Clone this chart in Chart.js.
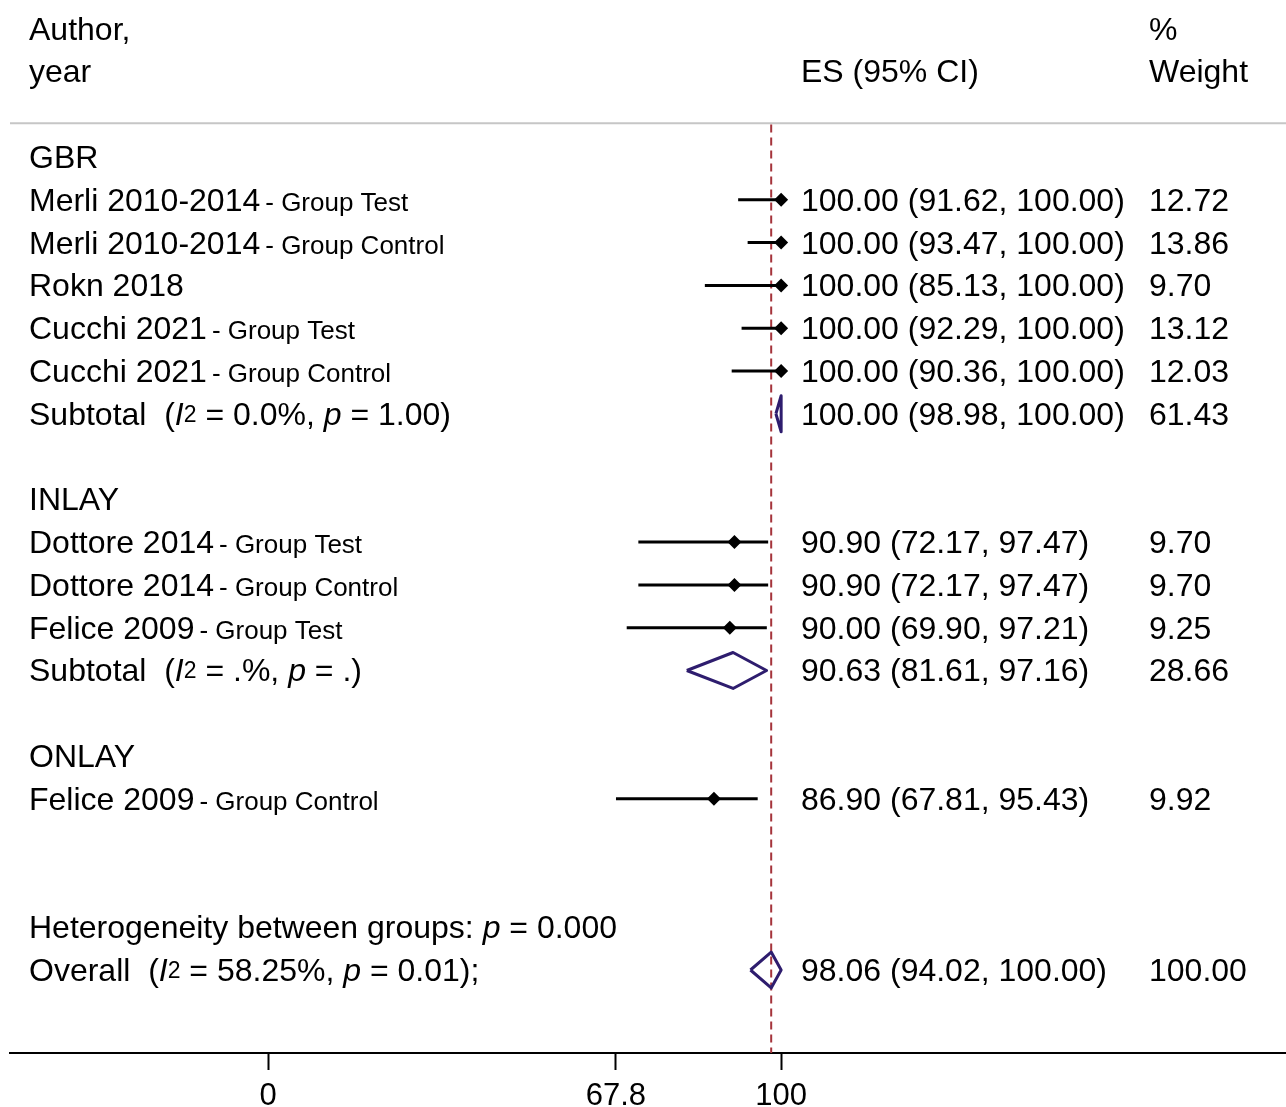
<!DOCTYPE html>
<html>
<head>
<meta charset="utf-8">
<script src="https://cdn.jsdelivr.net/npm/chart.js@4.4.0/dist/chart.umd.min.js"></script>
<style>
  html, body { margin: 0; padding: 0; background: #fff; }
  #wrap { width: 1286px; height: 1107px; position: relative; }
</style>
</head>
<body>
<div id="wrap"><canvas id="forest"></canvas></div>
<script>
// rows run top to bottom, row 0 = first subgroup heading
const groupNames = ['GBR', 'INLAY', 'ONLAY'];
const groupRows  = [0, 8, 14];

const studyNames  = ['Merli 2010-2014', 'Merli 2010-2014', 'Rokn 2018', 'Cucchi 2021', 'Cucchi 2021',
                     'Dottore 2014', 'Dottore 2014', 'Felice 2009', 'Felice 2009'];
const studyArms   = ['- Group Test', '- Group Control', '', '- Group Test', '- Group Control',
                     '- Group Test', '- Group Control', '- Group Test', '- Group Control'];
const studyRows   = [1, 2, 3, 4, 5, 9, 10, 11, 15];
const studyES     = [100.00, 100.00, 100.00, 100.00, 100.00, 90.90, 90.90, 90.00, 86.90];
const studyLow    = [91.62, 93.47, 85.13, 92.29, 90.36, 72.17, 72.17, 69.90, 67.81];
const studyHigh   = [100.00, 100.00, 100.00, 100.00, 100.00, 97.47, 97.47, 97.21, 95.43];
const studyWeight = [12.72, 13.86, 9.70, 13.12, 12.03, 9.70, 9.70, 9.25, 9.92];

const poolLabels = ['Subtotal', 'Subtotal', 'Overall'];
const poolRows   = [6, 12, 19];
const poolES     = [100.00, 90.63, 98.06];
const poolLow    = [98.98, 81.61, 94.02];
const poolHigh   = [100.00, 97.16, 100.00];
const poolWeight = [61.43, 28.66, 100.00];
const poolI2     = ['0.0%', '.%', '58.25%'];
const poolP      = ['1.00', '.', '0.01'];
const poolTail   = [')', ')', ');'];

const hetRow  = 18;
const hetP    = '0.000';

const axisTicks  = [0, 67.8, 100];
const tickLabels = ['0', '67.8', '100'];

// plot window
const X_MIN = -50.3, X_MAX = 198.4;
const Y_MIN = -3.67, Y_MAX = 20.94;
const RULE_ROW = -0.79;     // grey line under the header
const DIAMOND_H = 0.42;     // half height of pooled diamonds, in rows

const FONT = "'Liberation Sans', Arial, Helvetica, sans-serif";
const big   = `32px ${FONT}`;
const small = `26px ${FONT}`;
const ital  = `italic 32px ${FONT}`;
const supF  = `23px ${FONT}`;
const LABEL_X = 29, ES_X = 801, WT_X = 1149;

const f2 = v => v.toFixed(2);
const esText = (e, l, h) => `${f2(e)} (${f2(l)}, ${f2(h)})`;

function drawRich(ctx, parts, x, y) {
  parts.forEach(p => {
    ctx.font = p.font;
    ctx.fillText(p.t, x, y - (p.rise || 0));
    x += ctx.measureText(p.t).width;
  });
}

const textPlugin = {
  id: 'forestText',
  afterDraw(chart) {
    const ctx = chart.ctx;
    const ys = chart.scales.y;
    const base = r => ys.getPixelForValue(r) + 11;
    ctx.save();
    ctx.fillStyle = '#000';
    ctx.textAlign = 'left';
    ctx.textBaseline = 'alphabetic';
    ctx.font = big;

    // header
    ctx.fillText('Author,', LABEL_X, base(-3));
    ctx.fillText('year', LABEL_X, base(-2));
    ctx.fillText('ES (95% CI)', ES_X, base(-2));
    ctx.fillText('%', WT_X, base(-3));
    ctx.fillText('Weight', WT_X, base(-2));

    groupNames.forEach((g, i) => ctx.fillText(g, LABEL_X, base(groupRows[i])));

    studyNames.forEach((name, i) => {
      const y = base(studyRows[i]);
      ctx.font = big;
      ctx.fillText(name, LABEL_X, y);
      const w = ctx.measureText(name).width;
      if (studyArms[i]) {
        ctx.font = small;
        ctx.fillText(studyArms[i], LABEL_X + w + 5, y);
      }
      ctx.font = big;
      ctx.fillText(esText(studyES[i], studyLow[i], studyHigh[i]), ES_X, y);
      ctx.fillText(f2(studyWeight[i]), WT_X, y);
    });

    poolLabels.forEach((lab, i) => {
      const y = base(poolRows[i]);
      drawRich(ctx, [
        { t: lab + '  (', font: big },
        { t: 'I', font: ital },
        { t: '2', font: supF, rise: 3 },
        { t: ' = ' + poolI2[i] + ', ', font: big },
        { t: 'p', font: ital },
        { t: ' = ' + poolP[i] + poolTail[i], font: big }
      ], LABEL_X, y);
      ctx.font = big;
      ctx.fillText(esText(poolES[i], poolLow[i], poolHigh[i]), ES_X, y);
      ctx.fillText(f2(poolWeight[i]), WT_X, y);
    });

    drawRich(ctx, [
      { t: 'Heterogeneity between groups: ', font: big },
      { t: 'p', font: ital },
      { t: ' = ' + hetP, font: big }
    ], LABEL_X, base(hetRow));
    ctx.restore();
  }
};

const datasets = [];

// grey rule under the header
datasets.push({
  data: [{ x: X_MIN, y: RULE_ROW }, { x: X_MAX, y: RULE_ROW }],
  showLine: true, borderColor: '#c6c6c6', borderWidth: 2, pointRadius: 0, order: 6
});

// dashed line at the overall estimate
datasets.push({
  data: [{ x: poolES[2], y: RULE_ROW + 0.03 }, { x: poolES[2], y: Y_MAX }],
  showLine: true, borderColor: '#a5343b', borderWidth: 2, borderDash: [8, 5],
  pointRadius: 0, order: 5
});

// confidence intervals
studyRows.forEach((r, i) => {
  datasets.push({
    data: [{ x: studyLow[i], y: r }, { x: studyHigh[i], y: r }],
    showLine: true, borderColor: '#000', borderWidth: 3, pointRadius: 0, order: 3
  });
});

// point estimates
datasets.push({
  data: studyRows.map((r, i) => ({ x: studyES[i], y: r })),
  pointStyle: 'rectRot', pointRadius: 7, pointBackgroundColor: '#000',
  pointBorderColor: '#000', pointBorderWidth: 0, order: 2
});

// pooled diamonds
poolRows.forEach((r, i) => {
  datasets.push({
    data: [
      { x: poolLow[i], y: r },
      { x: poolES[i], y: r - DIAMOND_H },
      { x: poolHigh[i], y: r },
      { x: poolES[i], y: r + DIAMOND_H },
      { x: poolLow[i], y: r }
    ],
    showLine: true, borderColor: '#2e1d6e', borderWidth: 3, borderJoinStyle: 'round',
    pointRadius: 0, fill: false, order: 1
  });
});

new Chart(document.getElementById('forest'), {
  type: 'scatter',
  data: { datasets },
  options: {
    responsive: true,
    maintainAspectRatio: false,
    animation: false,
    layout: { autoPadding: false, padding: { left: 10, right: 0, top: 0, bottom: 0 } },
    plugins: { legend: { display: false }, tooltip: { enabled: false } },
    elements: { line: { tension: 0 } },
    scales: {
      x: {
        type: 'linear',
        min: X_MIN, max: X_MAX,
        afterBuildTicks: scale => { scale.ticks = axisTicks.map(v => ({ value: v })); },
        afterFit: scale => { scale.height = 54; },
        ticks: {
          autoSkip: false, maxRotation: 0, color: '#000', padding: 8,
          font: { family: FONT, size: 31 },
          callback: (v, i) => tickLabels[i]
        },
        grid: { drawOnChartArea: false, drawTicks: true, tickLength: 17, tickWidth: 2, tickColor: '#000' },
        border: { display: true, color: '#000', width: 2 }
      },
      y: {
        type: 'linear', display: false, reverse: true,
        min: Y_MIN, max: Y_MAX
      }
    }
  },
  plugins: [textPlugin]
});
</script>
</body>
</html>
